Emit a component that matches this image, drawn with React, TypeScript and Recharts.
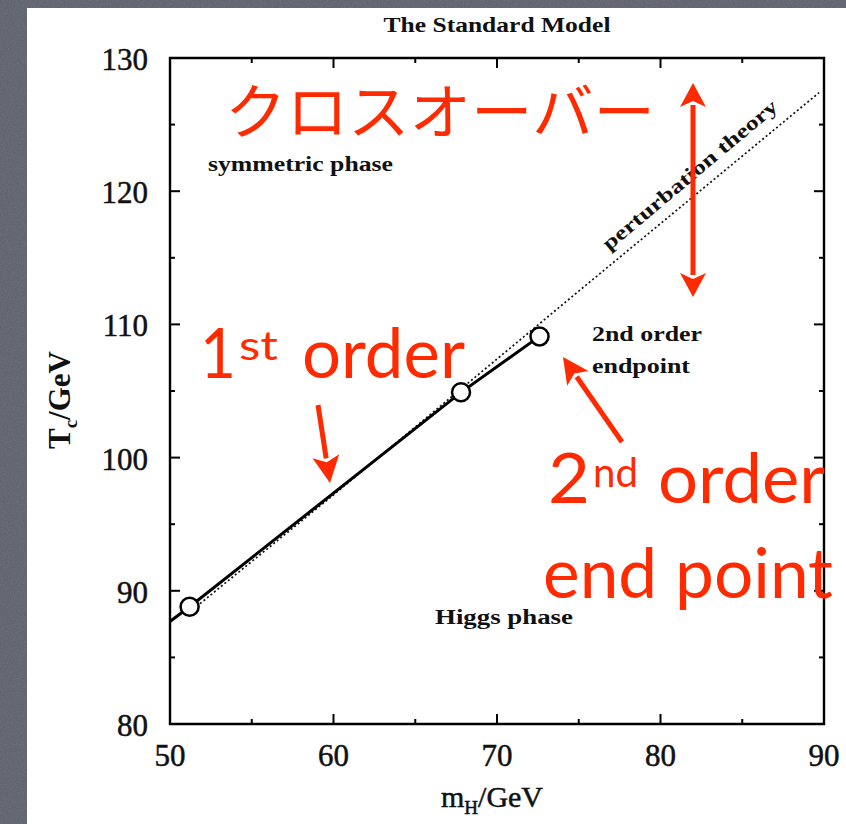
import React from 'react'
import { ComposedChart, Line, XAxis, YAxis, ReferenceArea } from 'recharts'

// Higgs mass m_H (GeV) against critical temperature T_c (GeV)
const transitionLine = [
  { mH: 50.0, Tc: 87.7 },
  { mH: 51.2, Tc: 88.8 },
  { mH: 67.8, Tc: 104.9 },
  { mH: 72.6, Tc: 109.1 },
]

const perturbationTheory = [
  { mH: 51.2, Tc: 88.4 },
  { mH: 60.0, Tc: 97.2 },
  { mH: 75.0, Tc: 112.5 },
  { mH: 89.7, Tc: 127.4 },
]

const latticePoints = [
  { mH: 51.2, Tc: 88.8 },
  { mH: 67.8, Tc: 104.9 },
  { mH: 72.6, Tc: 109.1 },
]

const xTicks = [50, 55, 60, 65, 70, 75, 80, 85, 90]
const yTicks = [80, 85, 90, 95, 100, 105, 110, 115, 120, 125, 130]

const W = 846
const H = 824
const PLOT_W = 654
const PLOT_H = 666
const SERIF = '"Liberation Serif", "DejaVu Serif", serif'
const SANS = 'Lato, "Noto Sans", sans-serif'
const JP = '"Noto Sans CJK JP", sans-serif'
const RED = '#ff2a00'

function BottomTick(props: any) {
  const { x, y, payload } = props
  const major = payload.value % 10 === 0
  const len = major ? 10 : 5
  return (
    <g>
      <line x1={x} x2={x} y1={y} y2={y - len} stroke="#000" strokeWidth={2} />
      <line x1={x} x2={x} y1={y - PLOT_H} y2={y - PLOT_H + len} stroke="#000" strokeWidth={2} />
      {major && (
        <text x={x} y={y + 42} textAnchor="middle" fontFamily={SERIF} fontSize={31} fill="#111" stroke="#111" strokeWidth={0.5}>
          {payload.value}
        </text>
      )}
    </g>
  )
}

function LeftTick(props: any) {
  const { x, y, payload } = props
  const major = payload.value % 10 === 0
  const len = major ? 10 : 5
  return (
    <g>
      <line x1={x} x2={x + len} y1={y} y2={y} stroke="#000" strokeWidth={2} />
      <line x1={x + PLOT_W} x2={x + PLOT_W - len} y1={y} y2={y} stroke="#000" strokeWidth={2} />
      {major && (
        <text x={x - 22} y={y + 12} textAnchor="end" fontFamily={SERIF} fontSize={31} fill="#111" stroke="#111" strokeWidth={0.5}>
          {payload.value}
        </text>
      )}
    </g>
  )
}

function Arrow({ x1, y1, x2, y2, head = 26, width = 26, stroke = 5 }: any) {
  const dx = x2 - x1
  const dy = y2 - y1
  const l = Math.hypot(dx, dy)
  const ux = dx / l
  const uy = dy / l
  const bx = x2 - ux * head
  const by = y2 - uy * head
  const px = -uy * (width / 2)
  const py = ux * (width / 2)
  return (
    <g>
      <line x1={x1} y1={y1} x2={bx + ux * 2} y2={by + uy * 2} stroke={RED} strokeWidth={stroke} />
      <polygon
        points={`${x2},${y2} ${bx + px},${by + py} ${bx + ux * 6},${by + uy * 6} ${bx - px},${by - py}`}
        fill={RED}
      />
    </g>
  )
}

export default function App() {
  return (
    <div style={{ position: 'absolute', left: 0, top: 0, width: W, height: H, overflow: 'hidden' }}>
      <svg width={W} height={H} style={{ position: 'absolute', left: 0, top: 0 }}>
        <defs>
          <filter id="grain">
            <feTurbulence type="fractalNoise" baseFrequency="0.7" numOctaves={2} seed={4} />
            <feColorMatrix type="saturate" values="0" />
          </filter>
        </defs>
        <rect width={W} height={H} fill="#5d616c" />
        <rect width={W} height={H} filter="url(#grain)" opacity={0.16} />
        <rect x={27} y={8} width={W - 27} height={H - 8} fill="#fff" />
      </svg>

      <div style={{ position: 'absolute', left: 0, top: 0 }}>
        <ComposedChart width={W} height={H} margin={{ top: 58, right: 22, bottom: 0, left: 0 }}>
          <XAxis
            type="number"
            dataKey="mH"
            domain={[50, 90]}
            ticks={xTicks}
            interval={0}
            height={100}
            axisLine={false}
            tickLine={false}
            tickSize={0}
            tickMargin={0}
            allowDataOverflow
            tick={(p: any) => <BottomTick {...p} />}
          />
          <YAxis
            type="number"
            dataKey="Tc"
            domain={[80, 130]}
            ticks={yTicks}
            interval={0}
            width={170}
            axisLine={false}
            tickLine={false}
            tickSize={0}
            tickMargin={0}
            allowDataOverflow
            tick={(p: any) => <LeftTick {...p} />}
          />
          <ReferenceArea x1={50} x2={90} y1={80} y2={130} fill="none" stroke="#000" strokeWidth={2.4} />
          <Line
            data={perturbationTheory}
            dataKey="Tc"
            type="linear"
            stroke="#111"
            strokeWidth={1.7}
            strokeDasharray="2 2.5"
            dot={false}
            isAnimationActive={false}
          />
          <Line
            data={transitionLine}
            dataKey="Tc"
            type="linear"
            stroke="#000"
            strokeWidth={3}
            dot={false}
            isAnimationActive={false}
          />
          <Line
            data={latticePoints}
            dataKey="Tc"
            stroke="none"
            dot={{ r: 9, fill: '#fff', stroke: '#000', strokeWidth: 2.5 }}
            isAnimationActive={false}
          />
        </ComposedChart>
      </div>

      <svg width={W} height={H} style={{ position: 'absolute', left: 0, top: 0, pointerEvents: 'none' }}>
        {/* figure text */}
        <g fontFamily={SERIF} fill="#111">
          <text x={497} y={32} textAnchor="middle" fontSize={22} fontWeight="bold" textLength={227} lengthAdjust="spacingAndGlyphs">
            The Standard Model
          </text>
          <text x={208} y={171} fontSize={20} fontWeight="bold" textLength={185} lengthAdjust="spacingAndGlyphs">
            symmetric phase
          </text>
          <text x={435} y={624} fontSize={20} fontWeight="bold" textLength={138} lengthAdjust="spacingAndGlyphs">
            Higgs phase
          </text>
          <text x={592} y={341} fontSize={20} fontWeight="bold" textLength={110} lengthAdjust="spacingAndGlyphs">
            2nd order
          </text>
          <text x={592} y={373} fontSize={20} fontWeight="bold" textLength={98} lengthAdjust="spacingAndGlyphs">
            endpoint
          </text>
          <text
            x={0}
            y={0}
            transform="translate(694 180) rotate(-40)"
            textAnchor="middle"
            fontSize={20}
            fontWeight="bold"
            textLength={222}
            lengthAdjust="spacingAndGlyphs"
          >
            perturbation theory
          </text>
          <text x={492} y={807} textAnchor="middle" fontSize={30} stroke="#111" strokeWidth={0.5}>
            m<tspan fontSize={19} dy={7}>H</tspan>
            <tspan dy={-7}>/GeV</tspan>
          </text>
          <text transform="translate(70 400) rotate(-90)" textAnchor="middle" fontSize={31} fontWeight="bold">
            T<tspan fontSize={19} dy={7}>c</tspan>
            <tspan dy={-7}>/GeV</tspan>
          </text>
        </g>

        {/* red notes */}
        <g fill={RED}>
          <text x={225} y={134} fontFamily={JP} fontSize={60} textLength={430} lengthAdjust="spacingAndGlyphs">
            クロスオーバー
          </text>
          <text x={200} y={378} fontFamily={SANS} fontSize={69} textLength={36} lengthAdjust="spacingAndGlyphs">1</text>
          <text x={239} y={360} fontFamily={SANS} fontSize={40} textLength={39} lengthAdjust="spacingAndGlyphs">st</text>
          <text x={302} y={378} fontFamily={SANS} fontSize={69} textLength={163} lengthAdjust="spacingAndGlyphs">
            order
          </text>
          <text x={548} y={503} fontFamily={SANS} fontSize={69} textLength={42} lengthAdjust="spacingAndGlyphs">2</text>
          <text x={593} y={487} fontFamily={SANS} fontSize={40} textLength={45} lengthAdjust="spacingAndGlyphs">nd</text>
          <text x={658} y={503} fontFamily={SANS} fontSize={69} textLength={167} lengthAdjust="spacingAndGlyphs">
            order
          </text>
          <text x={543} y={598} fontFamily={SANS} fontSize={69} textLength={290} lengthAdjust="spacingAndGlyphs">
            end point
          </text>
        </g>
        <Arrow x1={693} y1={190} x2={693} y2={83} head={24} width={26} />
        <Arrow x1={693} y1={190} x2={693} y2={297} head={24} width={26} />
        <Arrow x1={318} y1={405} x2={330} y2={483} head={27} width={27} />
        <Arrow x1={622} y1={442} x2={563} y2={357} head={26} width={26} />
      </svg>
    </div>
  )
}
